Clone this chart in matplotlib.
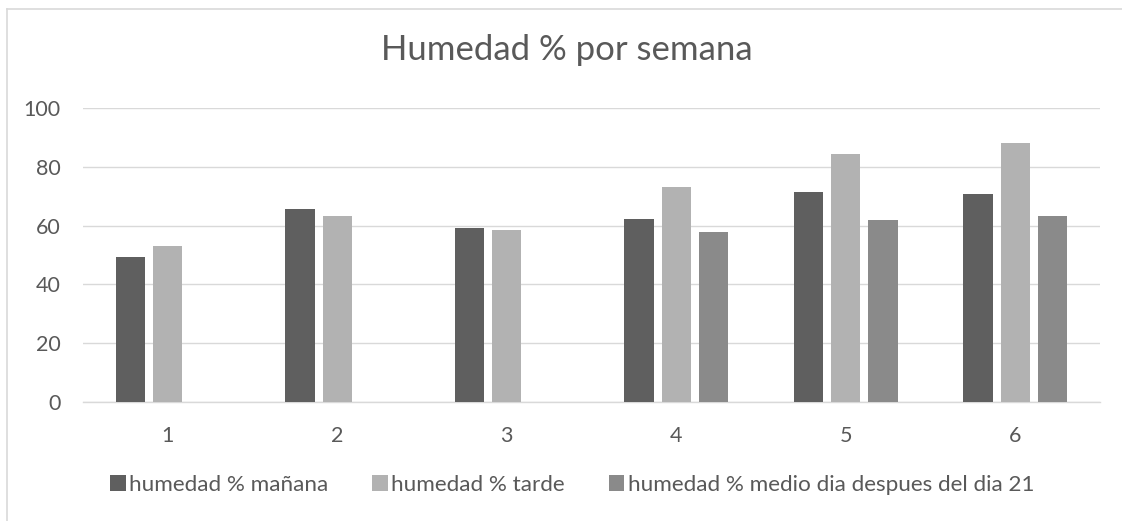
import matplotlib
matplotlib.use("Agg")
import matplotlib.pyplot as plt
from matplotlib.lines import Line2D
import numpy as np

categories = ["1", "2", "3", "4", "5", "6"]
series_names = ["humedad % mañana", "humedad % tarde", "humedad % medio dia despues del dia 21"]
manana = [49.3, 65.7, 59.2, 62.3, 71.5, 70.9]
tarde = [53.1, 63.3, 58.4, 73.1, 84.3, 88.0]
medio = [0, 0, 0, 57.7, 61.9, 63.1]
colors = ["#5f5f5f", "#b2b2b2", "#8a8a8a"]
yticks = [0, 20, 40, 60, 80, 100]
title = "Humedad % por semana"

plt.rcParams['font.family'] = ['Lato', 'DejaVu Sans']
text_color = "#595959"
grid_color = "#d9d9d9"

W, H = 1122, 521
fig = plt.figure(figsize=(W / 100, H / 100), dpi=100)
fig.patch.set_facecolor("white")

ax = fig.add_axes([83 / W, (H - 402) / H, 1017 / W, 294 / H])

x = np.arange(len(categories))
step = 0.221
width = 0.174
for i, (vals, name) in enumerate(zip([manana, tarde, medio], series_names)):
    ax.bar(x + (i - 1) * step, vals, width=width, color=colors[i], label=name, zorder=3)

ax.set_xlim(-0.5, len(categories) - 0.5)
ax.set_ylim(0, 100)
ax.set_yticks(yticks)
ax.set_yticklabels([str(v) for v in yticks])
ax.set_xticks(x)
ax.set_xticklabels(categories)
ax.grid(axis='y', color=grid_color, linewidth=1.0, zorder=0)
ax.set_axisbelow(True)
for s in ['top', 'right', 'left']:
    ax.spines[s].set_visible(False)
ax.spines['bottom'].set_color(grid_color)
ax.spines['bottom'].set_linewidth(1.0)
ax.tick_params(axis='both', length=0, labelsize=15.5, labelcolor=text_color)
ax.tick_params(axis='y', pad=16)
ax.tick_params(axis='x', pad=17)

fig.text(567 / W, 1 - 50 / H, title, ha='center', va='center', fontsize=25, color=text_color)

leg = fig.legend(loc='center', bbox_to_anchor=(572 / W, 1 - 485 / H), ncol=3, frameon=False,
                 fontsize=16.2, labelcolor=text_color, handlelength=0.7, handleheight=0.7,
                 handletextpad=0.15, columnspacing=1.95, borderaxespad=0)

# chart border (left and top visible)
fig.add_artist(Line2D([7 / W, 7 / W], [0, 1 - 9 / H], transform=fig.transFigure, color=grid_color, lw=1.2))
fig.add_artist(Line2D([7 / W, 1], [1 - 9 / H, 1 - 9 / H], transform=fig.transFigure, color=grid_color, lw=1.2))

fig.savefig("out.png", dpi=100)
